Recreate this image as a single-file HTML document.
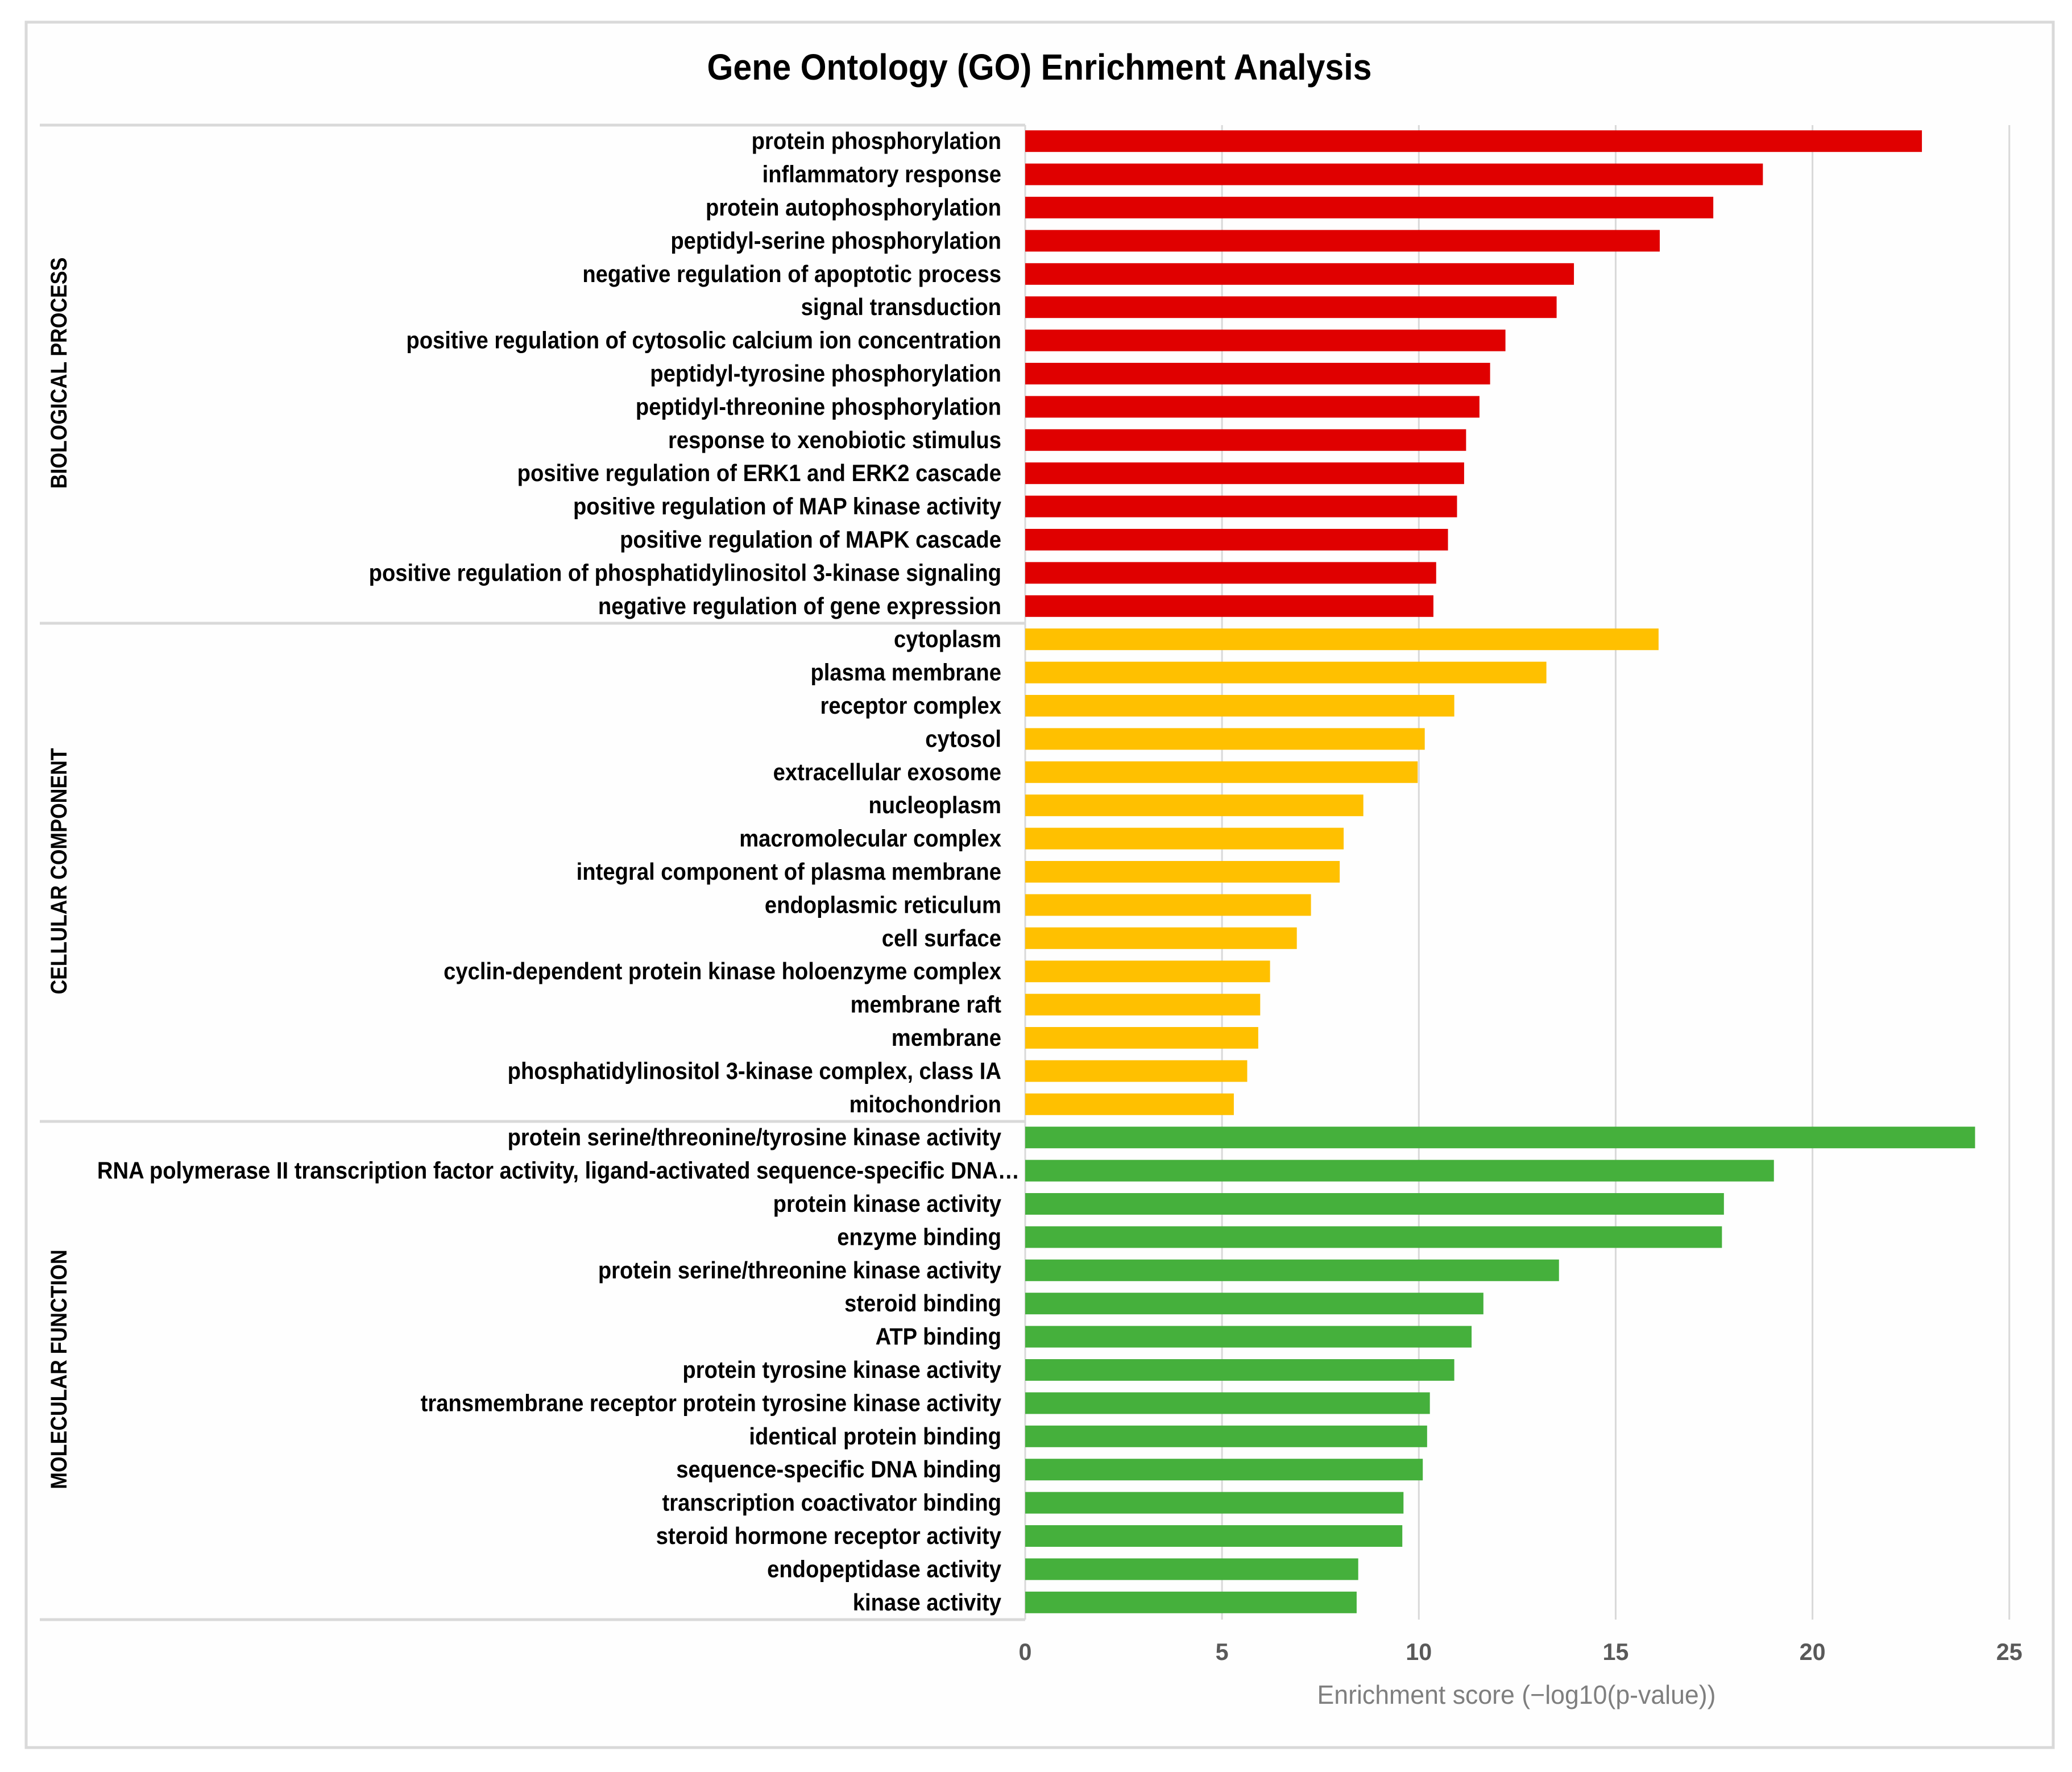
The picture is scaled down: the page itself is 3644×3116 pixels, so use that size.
<!DOCTYPE html>
<html lang="en">
<head>
<meta charset="utf-8">
<title>Gene Ontology (GO) Enrichment Analysis</title>
<style>
  html, body { margin: 0; padding: 0; background: #fff; }
  svg { display: block; }
  text { font-family: "Liberation Sans", sans-serif; }
</style>
</head>
<body>
<svg id="chart" xmlns="http://www.w3.org/2000/svg" width="3644" height="3116" viewBox="0 0 3644 3116">
  <rect x="46" y="39" width="3565" height="3034" fill="#fefefe" stroke="#d9d9d9" stroke-width="5"/>
  <text x="1828" y="140" text-anchor="middle" font-size="64" font-weight="700" fill="#000" textLength="1169" lengthAdjust="spacingAndGlyphs">Gene Ontology (GO) Enrichment Analysis</text>
  <g id="grid"></g>
  <g id="groups"></g>
  <g id="bars"></g>
  <g id="labels"></g>
  <g id="ticks"></g>
  <text x="2667" y="2996" text-anchor="middle" font-size="46" fill="#7f7f7f" textLength="701" lengthAdjust="spacingAndGlyphs">Enrichment score (−log10(p-value))</text>
</svg>
<script>
const groupNames = ["BIOLOGICAL PROCESS", "CELLULAR COMPONENT", "MOLECULAR FUNCTION"];
const groupColors = ["#e00000", "#ffc000", "#45b03c"];
const biologicalLabels = ["protein phosphorylation", "inflammatory response", "protein autophosphorylation", "peptidyl-serine phosphorylation", "negative regulation of apoptotic process", "signal transduction", "positive regulation of cytosolic calcium ion concentration", "peptidyl-tyrosine phosphorylation", "peptidyl-threonine phosphorylation", "response to xenobiotic stimulus", "positive regulation of ERK1 and ERK2 cascade", "positive regulation of MAP kinase activity", "positive regulation of MAPK cascade", "positive regulation of phosphatidylinositol 3-kinase signaling", "negative regulation of gene expression"];
const biologicalValues = [22.78, 18.74, 17.48, 16.12, 13.94, 13.5, 12.2, 11.81, 11.54, 11.2, 11.15, 10.97, 10.74, 10.44, 10.37];
const cellularLabels = ["cytoplasm", "plasma membrane", "receptor complex", "cytosol", "extracellular exosome", "nucleoplasm", "macromolecular complex", "integral component of plasma membrane", "endoplasmic reticulum", "cell surface", "cyclin-dependent protein kinase holoenzyme complex", "membrane raft", "membrane", "phosphatidylinositol 3-kinase complex, class IA", "mitochondrion"];
const cellularValues = [16.09, 13.24, 10.9, 10.15, 9.97, 8.59, 8.09, 7.99, 7.26, 6.9, 6.22, 5.97, 5.92, 5.64, 5.3];
const molecularLabels = ["protein serine/threonine/tyrosine kinase activity", "RNA polymerase II transcription factor activity, ligand-activated sequence-specific DNA…", "protein kinase activity", "enzyme binding", "protein serine/threonine kinase activity", "steroid binding", "ATP binding", "protein tyrosine kinase activity", "transmembrane receptor protein tyrosine kinase activity", "identical protein binding", "sequence-specific DNA binding", "transcription coactivator binding", "steroid hormone receptor activity", "endopeptidase activity", "kinase activity"];
const molecularValues = [24.13, 19.02, 17.75, 17.7, 13.56, 11.64, 11.34, 10.9, 10.28, 10.21, 10.1, 9.61, 9.58, 8.46, 8.42];
const xTicks = [0, 5, 10, 15, 20, 25];

const allLabels = [biologicalLabels, cellularLabels, molecularLabels];
const allValues = [biologicalValues, cellularValues, molecularValues];

const NS = "http://www.w3.org/2000/svg";
const plotTop = 220, plotBottom = 2848, plotLeft = 1803, unit = 69.23;
const rowCount = allLabels.reduce((n, g) => n + g.length, 0);
const rowHeight = (plotBottom - plotTop) / rowCount;
const barHeight = 38;
const x = v => plotLeft + v * unit;
const yTop = row => plotTop + row * rowHeight;
const yMid = row => yTop(row) + rowHeight / 2 - 1;

function make(tag, attrs, parent, content) {
  const el = document.createElementNS(NS, tag);
  for (const k in attrs) el.setAttribute(k, attrs[k]);
  if (content !== undefined) el.textContent = content;
  parent.appendChild(el);
  return el;
}

const gridG = document.getElementById("grid");
const groupsG = document.getElementById("groups");
const barsG = document.getElementById("bars");
const labelsG = document.getElementById("labels");
const ticksG = document.getElementById("ticks");

xTicks.forEach(t => {
  if (t > 0) {
    const line = make("line", {x1: x(t), x2: x(t), y1: plotTop, y2: plotBottom, stroke: "#d9d9d9", "stroke-width": 3}, gridG);
    
    
  }
  const tick = make("text", {x: x(t), y: 2919, "text-anchor": "middle", "font-size": 42, "font-weight": 700, fill: "#595959", textLength: String(t).length * 23, lengthAdjust: "spacingAndGlyphs"}, ticksG, t);
  
  
});

const axisLine = make("line", {x1: plotLeft, x2: plotLeft, y1: plotTop, y2: plotBottom, stroke: "#d9d9d9", "stroke-width": 3}, groupsG);



let row = 0;
allLabels.forEach((labels, g) => {
  const startRow = row;
  const sep = make("line", {x1: 70, x2: plotLeft, y1: yTop(row), y2: yTop(row), stroke: "#d9d9d9", "stroke-width": 5}, groupsG);
  
  
  labels.forEach((label, i) => {
    const bar = make("rect", {x: plotLeft, y: yMid(row) - barHeight / 2, width: allValues[g][i] * unit, height: barHeight, fill: groupColors[g]}, barsG);
    
    
    const rightEdge = label.endsWith("…") ? 1793 : 1761;
    const text = make("text", {transform: `translate(${rightEdge} ${yMid(row) + 14}) scale(0.91 1)`, "text-anchor": "end", "font-size": 42, "font-weight": 700, fill: "#000"}, labelsG, label);
    
    
    row++;
  });
  const mid = (yTop(startRow) + yTop(row)) / 2 - 2;
  const gl = make("text", {transform: `translate(117 ${mid}) rotate(-90) scale(0.89 1)`, "text-anchor": "middle", "font-size": 40, "font-weight": 700, fill: "#000"}, groupsG, groupNames[g]);
  
  
});
const endSep = make("line", {x1: 70, x2: plotLeft, y1: plotBottom, y2: plotBottom, stroke: "#d9d9d9", "stroke-width": 5}, groupsG);


</script>
</body>
</html>
